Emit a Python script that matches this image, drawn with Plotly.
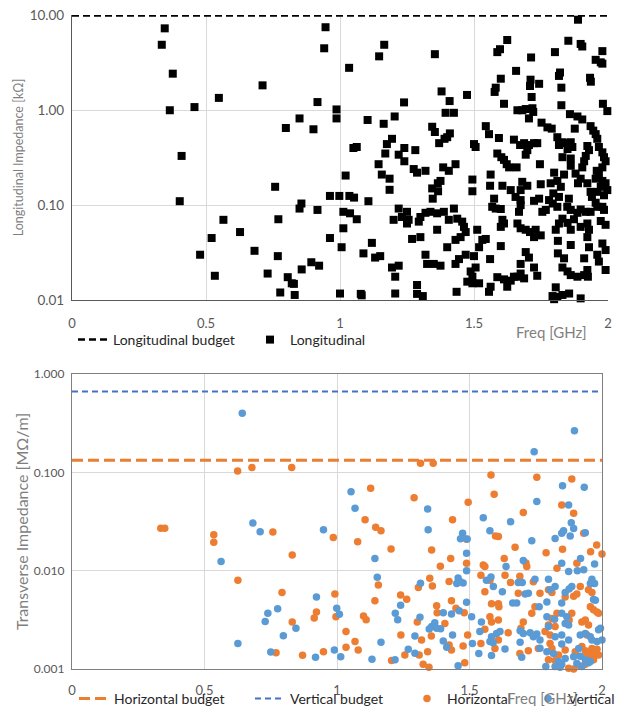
import plotly.graph_objects as go

# ---------------- data (frequency GHz, impedance) ----------------
freq_ticks = [0, 0.5, 1, 1.5, 2]
freq_tick_text = ["0", "0.5", "1", "1.5", "2"]
long_ticks = [0.01, 0.1, 1, 10]
long_tick_text = ["0.01", "0.10", "1.00", "10.00"]
trans_ticks = [0.001, 0.01, 0.1, 1]
trans_tick_text = ["0.001", "0.010", "0.100", "1.000"]

budget_freq = [0, 2]
long_budget = [10.0, 10.0]
horiz_budget = [0.133, 0.133]
vert_budget = [0.665, 0.665]

longitudinal = [
    (0.346, 7.3), (0.335, 4.9), (0.376, 2.43), (0.365, 1.0), (0.457, 1.08), (0.548, 1.35),
    (0.711, 1.83), (0.409, 0.33), (0.402, 0.11), (0.798, 0.65), (0.849, 0.82), (0.901, 0.63),
    (0.916, 1.22), (0.758, 0.156), (0.856, 0.104), (0.849, 0.092), (0.916, 0.089), (0.770, 0.071),
    (0.565, 0.070), (0.627, 0.052), (0.521, 0.045), (0.681, 0.033), (0.478, 0.030), (0.768, 0.029),
    (0.533, 0.018), (0.730, 0.019), (0.893, 0.025), (0.857, 0.021), (0.922, 0.023), (0.805, 0.0174),
    (0.820, 0.015), (0.828, 0.0148), (0.777, 0.012), (0.831, 0.0113), (0.946, 7.5), (0.941, 4.5),
    (1.165, 4.9), (1.146, 3.7), (1.354, 3.9), (1.034, 2.8), (1.379, 1.58), (1.474, 1.45),
    (1.239, 1.21), (1.409, 1.25), (0.987, 1.02), (0.987, 0.82), (1.394, 0.94), (1.425, 0.94),
    (1.103, 0.79), (1.204, 0.86), (1.163, 0.72), (1.344, 0.67), (1.354, 0.59), (1.41, 0.57),
    (1.40, 0.52), (1.37, 0.45), (1.39, 0.50), (1.194, 0.50), (1.175, 0.44), (1.0625, 0.41),
    (1.05, 0.40), (1.24, 0.40), (1.281, 0.38), (1.219, 0.34), (1.169, 0.35), (1.24, 0.29),
    (1.431, 0.27), (1.144, 0.27), (1.275, 0.24), (1.2875, 0.22), (1.319, 0.23), (1.385, 0.25),
    (1.406, 0.23), (1.021, 0.205), (1.156, 0.21), (1.185, 0.19), (1.185, 0.145), (1.375, 0.18),
    (1.365, 0.17), (1.344, 0.15), (1.366, 0.14), (1.346, 0.117), (1.494, 0.186), (1.494, 0.14),
    (0.9625, 0.125), (0.9975, 0.125), (1.035, 0.125), (1.0525, 0.12), (1.106, 0.11), (1.0125, 0.085),
    (1.0375, 0.082), (1.0625, 0.071), (1.0125, 0.057), (0.9625, 0.045), (1.006, 0.036), (1.119, 0.040),
    (1.0875, 0.031), (1.131, 0.028), (1.15, 0.029), (1.194, 0.022), (1.219, 0.023), (1.206, 0.0176),
    (1.0, 0.0117), (1.0775, 0.0116), (1.081, 0.0112), (1.206, 0.0117), (1.2875, 0.0144), (1.2875, 0.0116),
    (1.309, 0.011), (1.435, 0.0122), (1.219, 0.092), (1.25, 0.085), (1.231, 0.075), (1.256, 0.070),
    (1.25, 0.064), (1.2, 0.070), (1.3, 0.075), (1.294, 0.067), (1.319, 0.083), (1.3375, 0.085),
    (1.3625, 0.082), (1.3875, 0.085), (1.425, 0.092), (1.406, 0.070), (1.4375, 0.072), (1.456, 0.067),
    (1.4625, 0.059), (1.469, 0.052), (1.45, 0.046), (1.431, 0.043), (1.3625, 0.055), (1.269, 0.044),
    (1.3, 0.046), (1.4, 0.036), (1.319, 0.030), (1.325, 0.024), (1.35, 0.024), (1.375, 0.023),
    (1.431, 0.024), (1.444, 0.027), (1.469, 0.030), (1.4875, 0.020), (1.475, 0.0156), (1.494, 0.015),
    (1.5, 0.44), (1.506, 0.41),
    (1.888, 9.0), (1.624, 5.5), (1.587, 4.1), (1.597, 4.4), (1.852, 5.4), (1.898, 5.0),
    (1.904, 4.7), (1.979, 4.2), (1.802, 4.1), (1.954, 3.4), (1.973, 3.2), (1.979, 3.1),
    (1.713, 3.6), (1.657, 2.6), (1.821, 2.5), (1.817, 2.3), (1.600, 2.15), (1.933, 2.2),
    (1.936, 2.0), (1.711, 2.1), (1.709, 1.8), (1.743, 1.9), (1.581, 1.73), (1.577, 1.56),
    (1.826, 1.73), (1.715, 1.38), (1.612, 1.17), (1.826, 1.13), (1.981, 1.17), (1.9975, 0.98),
    (1.662, 1.0), (1.68, 1.0), (1.693, 1.03), (1.718, 1.05), (1.721, 0.96), (1.705, 0.82),
    (1.858, 0.91), (1.886, 0.86), (1.904, 0.80), (1.752, 0.74), (1.774, 0.66), (1.79, 0.64),
    (1.544, 0.68), (1.876, 0.64), (1.935, 0.68), (1.945, 0.61), (1.954, 0.56), (1.96, 0.50),
    (1.556, 0.56), (1.593, 0.51), (1.649, 0.49), (1.672, 0.43), (1.687, 0.45), (1.705, 0.43),
    (1.724, 0.45), (1.736, 0.45), (1.811, 0.52), (1.83, 0.46), (1.817, 0.43), (1.842, 0.45),
    (1.861, 0.46), (1.867, 0.41), (1.849, 0.39), (1.587, 0.35), (1.602, 0.32), (1.612, 0.30),
    (1.622, 0.27), (1.631, 0.25), (1.659, 0.25), (1.693, 0.34), (1.699, 0.38), (1.83, 0.32),
    (1.861, 0.31), (1.861, 0.26), (1.746, 0.27), (1.923, 0.42), (1.929, 0.38), (1.917, 0.33),
    (1.911, 0.29), (1.904, 0.25), (1.966, 0.41), (1.979, 0.36), (1.985, 0.32), (1.991, 0.29),
    (1.979, 0.25), (1.958, 0.23), (1.966, 0.21), (1.954, 0.19), (1.979, 0.18), (1.991, 0.17),
    (1.9975, 0.144), (1.973, 0.156), (1.96, 0.138), (1.985, 0.127), (1.879, 0.215), (1.898, 0.19),
    (1.888, 0.17), (1.923, 0.17), (1.935, 0.138), (1.799, 0.22), (1.811, 0.18), (1.836, 0.21),
    (1.824, 0.156), (1.786, 0.17), (1.562, 0.21), (1.56, 0.16), (1.606, 0.16), (1.637, 0.144),
    (1.655, 0.122), (1.674, 0.113), (1.68, 0.176), (1.699, 0.16), (1.674, 0.144), (1.749, 0.166),
    (1.796, 0.133), (1.817, 0.122), (1.794, 0.104), (1.811, 0.096), (1.854, 0.117), (1.848, 0.096),
    (1.575, 0.117), (1.568, 0.096), (1.581, 0.092), (1.6, 0.091), (1.674, 0.1), (1.724, 0.111),
    (1.743, 0.117), (1.755, 0.085), (1.768, 0.089), (1.668, 0.085), (1.94, 0.122), (1.954, 0.106),
    (1.96, 0.096), (1.979, 0.096), (1.985, 0.089), (1.935, 0.085), (1.917, 0.085), (1.898, 0.09),
    (1.886, 0.083), (1.861, 0.089), (1.873, 0.071), (1.849, 0.065), (1.973, 0.068), (1.991, 0.062),
    (1.923, 0.064), (1.929, 0.055), (1.923, 0.046), (1.898, 0.059), (1.861, 0.055), (1.817, 0.064),
    (1.805, 0.055), (1.83, 0.072), (1.606, 0.07), (1.612, 0.064), (1.6, 0.059), (1.662, 0.064),
    (1.674, 0.057), (1.693, 0.055), (1.709, 0.052), (1.73, 0.055), (1.724, 0.046), (1.749, 0.048),
    (1.512, 0.055), (1.531, 0.043), (1.544, 0.044), (1.519, 0.036), (1.5, 0.029), (1.506, 0.022),
    (1.494, 0.0176), (1.519, 0.015), (1.6, 0.037), (1.56, 0.027), (1.649, 0.0176), (1.693, 0.032),
    (1.705, 0.028), (1.674, 0.024), (1.724, 0.022), (1.736, 0.018), (1.674, 0.019), (1.662, 0.0176),
    (1.687, 0.0169), (1.637, 0.016), (1.612, 0.0165), (1.587, 0.0174), (1.562, 0.0138), (1.556, 0.0122),
    (1.624, 0.0138), (1.813, 0.042), (1.813, 0.031), (1.836, 0.0275), (1.83, 0.022), (1.849, 0.020),
    (1.861, 0.0183), (1.886, 0.0176), (1.911, 0.0183), (1.923, 0.0207), (1.925, 0.0176), (1.911, 0.0275),
    (1.966, 0.0254), (1.991, 0.0207), (1.979, 0.0394), (1.991, 0.0336), (1.929, 0.036), (1.861, 0.038),
    (1.96, 0.030), (1.805, 0.0136), (1.793, 0.011), (1.811, 0.0108), (1.83, 0.0113), (1.799, 0.0102),
    (1.898, 0.0104), (1.855, 0.0117), (1.78, 0.113),
]

horizontal = [
    (0.335, 0.027), (0.35, 0.027), (0.535, 0.0232), (0.535, 0.0194), (0.625, 0.103), (0.679, 0.112),
    (0.829, 0.112), (0.758, 0.0247), (0.831, 0.0144), (0.626, 0.008), (0.7925, 0.006), (0.831, 0.003),
    (0.914, 0.0033), (0.9225, 0.0038), (0.77, 0.00146), (0.87, 0.00138), (0.949, 0.0015),
    (1.315, 0.124), (1.363, 0.124), (1.127, 0.069), (1.291, 0.055), (1.495, 0.0495), (1.106, 0.033),
    (1.436, 0.033), (0.986, 0.0217), (1.146, 0.0276), (1.166, 0.0255), (1.078, 0.0197), (1.204, 0.0166),
    (1.357, 0.0162), (1.489, 0.0209), (1.429, 0.0133), (1.39, 0.0111), (1.489, 0.0119), (1.156, 0.00714),
    (1.35, 0.00836), (1.36, 0.00698), (1.307, 0.00676), (1.423, 0.00776), (0.992, 0.0058), (1.24, 0.00567),
    (1.263, 0.00512), (1.143, 0.00495), (1.432, 0.00495), (0.996, 0.0034), (1.1, 0.00346), (1.11, 0.00316),
    (1.376, 0.0044), (1.378, 0.00374), (1.449, 0.00414), (1.48, 0.00374), (1.303, 0.003), (1.407, 0.0029),
    (1.034, 0.0024), (1.241, 0.00222), (1.068, 0.0019), (1.319, 0.00197), (1.356, 0.00217), (1.493, 0.00222),
    (1.034, 0.00166), (1.08, 0.00156), (1.423, 0.00175), (1.432, 0.00156), (1.476, 0.00171), (1.256, 0.00139),
    (1.342, 0.0015), (1.31, 0.00139), (1.206, 0.00122), (1.325, 0.00112), (1.347, 0.00104), (1.482, 0.00116),
    (1.581, 0.094), (1.754, 0.089), (1.886, 0.0856), (1.593, 0.060), (1.703, 0.039), (1.848, 0.0466),
    (1.893, 0.0383), (1.598, 0.0225), (1.609, 0.0222), (1.931, 0.024), (1.672, 0.0173), (1.789, 0.0152),
    (1.851, 0.0165), (1.957, 0.0156), (1.98, 0.0182), (2.0, 0.0148), (1.631, 0.0133), (1.552, 0.0114),
    (1.558, 0.011), (1.543, 0.009), (1.713, 0.012), (1.716, 0.011), (1.83, 0.0106), (1.905, 0.0119),
    (1.634, 0.009), (1.655, 0.0076), (1.577, 0.008), (1.558, 0.0061), (1.583, 0.0046), (1.609, 0.0046),
    (1.611, 0.0043), (1.577, 0.0034), (1.583, 0.003), (1.609, 0.00315), (1.69, 0.0088), (1.684, 0.0059),
    (1.741, 0.0077), (1.766, 0.0059), (1.747, 0.0043), (1.735, 0.0037), (1.798, 0.0064), (1.811, 0.006),
    (1.861, 0.0054), (1.893, 0.0055), (1.905, 0.0058), (1.918, 0.0069), (1.949, 0.0064), (1.962, 0.006),
    (1.956, 0.0043), (1.968, 0.004), (1.981, 0.0038), (1.987, 0.0037), (1.886, 0.0037), (1.876, 0.00315),
    (1.924, 0.003), (1.937, 0.00315), (1.949, 0.0028), (1.943, 0.00222), (1.83, 0.0037), (1.811, 0.00327),
    (1.798, 0.0028), (1.823, 0.0027), (1.785, 0.0024), (1.804, 0.00222), (1.703, 0.003), (1.694, 0.0026),
    (1.646, 0.00234), (1.609, 0.00197), (1.596, 0.00162), (1.558, 0.00253), (1.543, 0.00182),
    (1.69, 0.00144), (1.722, 0.00153), (1.76, 0.00162), (1.804, 0.00182), (1.811, 0.00162), (1.836, 0.00139),
    (1.861, 0.00156), (1.899, 0.0015), (1.924, 0.00169), (1.937, 0.00153), (1.962, 0.00162), (1.981, 0.00159),
    (1.968, 0.00144), (1.987, 0.00139), (1.798, 0.00124), (1.823, 0.00122), (1.836, 0.0011), (1.874, 0.00102),
    (1.893, 0.001), (1.918, 0.00107), (1.937, 0.00112), (1.956, 0.00133), (1.968, 0.00124), (1.943, 0.00144),
]

vertical = [
    (0.6425, 0.398), (0.6825, 0.0305), (0.71, 0.0249), (0.5625, 0.0124), (0.626, 0.00182), (0.739, 0.0037),
    (0.776, 0.0041), (0.729, 0.00305), (0.7975, 0.00218), (0.845, 0.0026), (0.75, 0.00149), (0.9225, 0.0054),
    (0.919, 0.00132), (0.949, 0.026),
    (1.053, 0.0636), (1.068, 0.0431), (1.342, 0.0424), (1.344, 0.026), (1.474, 0.024), (1.466, 0.0211),
    (1.491, 0.021), (1.489, 0.015), (1.489, 0.01), (1.143, 0.0133), (1.152, 0.00855), (1.315, 0.00743),
    (1.457, 0.0084), (1.466, 0.0077), (1.476, 0.0075), (1.452, 0.0074), (0.999, 0.00414), (1.009, 0.0036),
    (1.24, 0.00446), (1.22, 0.00368), (1.229, 0.00316), (1.313, 0.00335), (1.401, 0.00374), (1.432, 0.00363),
    (1.461, 0.00392), (1.489, 0.00476), (1.508, 0.0034), (1.348, 0.00255), (1.369, 0.00296), (1.376, 0.0026),
    (1.391, 0.00257), (1.357, 0.0027), (1.294, 0.00217), (1.401, 0.00193), (1.414, 0.00166), (1.436, 0.00222),
    (1.511, 0.00182), (1.166, 0.00187), (1.269, 0.00159), (1.294, 0.00145), (0.99, 0.00156), (1.014, 0.00133),
    (1.132, 0.00126), (1.219, 0.00124), (1.457, 0.00108), (1.896, 0.265),
    (1.744, 0.162), (1.851, 0.073), (1.933, 0.0704), (1.754, 0.0504), (1.874, 0.0466), (1.552, 0.0346),
    (1.655, 0.0315), (1.577, 0.0255), (1.884, 0.0308), (1.855, 0.0255), (1.893, 0.0269), (1.88, 0.0225),
    (1.937, 0.0243), (1.848, 0.024), (1.735, 0.0202), (1.823, 0.0213), (1.919, 0.0133), (1.907, 0.01),
    (1.874, 0.0098), (1.931, 0.0102), (1.972, 0.0117), (1.848, 0.0119), (1.703, 0.0127), (1.638, 0.011),
    (1.564, 0.008), (1.962, 0.0082), (1.956, 0.0074), (1.972, 0.0074), (1.886, 0.0069), (1.876, 0.0065),
    (1.861, 0.006), (1.798, 0.0082), (1.823, 0.0069), (1.804, 0.0064), (1.747, 0.0082), (1.71, 0.0058),
    (1.722, 0.0059), (1.684, 0.0076), (1.699, 0.0076), (1.59, 0.0069), (1.581, 0.0086), (1.624, 0.0061),
    (1.678, 0.0047), (1.663, 0.0047), (1.763, 0.0043), (1.792, 0.0048), (1.848, 0.0047), (1.848, 0.0037),
    (1.867, 0.0034), (1.861, 0.0029), (1.874, 0.0028), (1.968, 0.0051), (1.975, 0.005), (1.545, 0.003),
    (1.539, 0.0024), (1.583, 0.00213), (1.602, 0.0023), (1.577, 0.0019), (1.589, 0.00185), (1.615, 0.0024),
    (1.691, 0.00245), (1.703, 0.0023), (1.729, 0.00234), (1.741, 0.00213), (1.754, 0.00227), (1.766, 0.00197),
    (1.792, 0.0034), (1.798, 0.0027), (1.821, 0.0032), (1.823, 0.00213), (1.848, 0.00222), (1.874, 0.00197),
    (1.792, 0.0015), (1.817, 0.00144), (1.848, 0.0018), (1.535, 0.00144), (1.583, 0.00137), (1.634, 0.0016),
    (1.691, 0.00187), (1.697, 0.00132), (1.766, 0.00163), (1.918, 0.00222), (1.937, 0.0023), (1.956, 0.00213),
    (1.962, 0.00197), (1.981, 0.0019), (1.987, 0.0025), (1.994, 0.0026), (2.0, 0.00197), (1.912, 0.00162),
    (1.918, 0.00135), (1.937, 0.00124), (1.956, 0.00119), (1.893, 0.00133), (1.861, 0.00128), (1.836, 0.00119),
    (1.848, 0.00112), (1.788, 0.00106), (1.823, 0.00106), (1.842, 0.00104), (1.905, 0.00114), (1.924, 0.00106),
    (1.949, 0.00116),
]

# ---------------- styling ----------------
FONT = "Lato"
GRID = "#d9d9d9"
AXIS = "#7f7f7f"
TICK = "#595959"
ORANGE = "#ED7D31"
BLUE = "#5B9BD5"

W, H = 621, 706
ML, MR, MT, MB = 72, 13, 15, 37
PW, PH = W - ML - MR, H - MT - MB


def px_x(p):
    return (p - ML) / PW


def px_y(p):
    return (H - MB - p) / PH


fig = go.Figure()

# top subplot
fig.add_trace(go.Scatter(
    x=budget_freq, y=long_budget, mode="lines", name="Longitudinal budget",
    line=dict(color="black", width=2.5, dash="7px,4px"),
    xaxis="x", yaxis="y", legend="legend", cliponaxis=False))
fig.add_trace(go.Scatter(
    x=[p[0] for p in longitudinal], y=[p[1] for p in longitudinal], mode="markers",
    name="Longitudinal", marker=dict(symbol="square", size=8, color="black"),
    xaxis="x", yaxis="y", legend="legend2", cliponaxis=False))

# bottom subplot
fig.add_trace(go.Scatter(
    x=budget_freq, y=horiz_budget, mode="lines", name="Horizontal budget",
    line=dict(color=ORANGE, width=3, dash="11px,5px"),
    xaxis="x2", yaxis="y2", legend="legend3"))
fig.add_trace(go.Scatter(
    x=budget_freq, y=vert_budget, mode="lines", name="Vertical budget",
    line=dict(color="#4472C4", width=2, dash="6px,4px"),
    xaxis="x2", yaxis="y2", legend="legend4"))
fig.add_trace(go.Scatter(
    x=[p[0] for p in horizontal], y=[p[1] for p in horizontal], mode="markers",
    name="Horizontal", marker=dict(size=7.5, color=ORANGE),
    xaxis="x2", yaxis="y2", legend="legend5", cliponaxis=False))
fig.add_trace(go.Scatter(
    x=[p[0] for p in vertical], y=[p[1] for p in vertical], mode="markers",
    name="Vertical", marker=dict(size=7.5, color=BLUE),
    xaxis="x2", yaxis="y2", legend="legend6", cliponaxis=False))

top_dom = [px_y(300), 1.0]
bot_dom = [0.0, px_y(374)]

common_x = dict(range=[0, 2], tickmode="array", tickvals=freq_ticks, ticktext=freq_tick_text,
                showgrid=True, gridcolor=GRID, gridwidth=1, zeroline=False,
                ticks="outside", tickcolor="rgba(0,0,0,0)",
                tickfont=dict(family=FONT, size=13, color=TICK))

fig.update_layout(
    width=W, height=H,
    margin=dict(l=ML, r=MR, t=MT, b=MB, autoexpand=False),
    paper_bgcolor="white", plot_bgcolor="white",
    font=dict(family=FONT, color="#404040"),
    xaxis=dict(domain=[0, 1], anchor="y", showline=True, linecolor="#595959", linewidth=1.2,
               ticklen=11, **common_x),
    yaxis=dict(domain=top_dom, anchor="x", type="log", range=[-2, 1.004],
               tickmode="array", tickvals=long_ticks, ticktext=long_tick_text,
               showgrid=True, gridcolor=GRID, zeroline=False,
               showline=True, linecolor="#595959", linewidth=1.2,
               ticks="outside", ticklen=4, tickcolor="rgba(0,0,0,0)",
               tickfont=dict(family=FONT, size=13.5, color=TICK),
               title=dict(text="Longitudinal Impedance [kΩ]", standoff=3,
                          font=dict(family=FONT, size=12.5, color="#7f7f7f"))),
    xaxis2=dict(domain=[0, px_x(602)], anchor="y2", showline=True, mirror=True,
                linecolor=AXIS, linewidth=1.2, ticklen=9, **common_x),
    yaxis2=dict(domain=bot_dom, anchor="x2", type="log", range=[-3, 0],
                tickmode="array", tickvals=trans_ticks, ticktext=trans_tick_text,
                showgrid=True, gridcolor=GRID, zeroline=False,
                showline=True, mirror=True, linecolor=AXIS, linewidth=1.2,
                ticks="outside", ticklen=4, tickcolor="rgba(0,0,0,0)",
                tickfont=dict(family=FONT, size=12, color=TICK),
                title=dict(text="Transverse Impedance [MΩ/m]", standoff=1,
                           font=dict(family=FONT, size=16, color="#7f7f7f"))),
    showlegend=True,
)

leg_common = dict(orientation="h", xanchor="left", yanchor="middle", bgcolor="rgba(0,0,0,0)",
                  font=dict(family=FONT, size=14, color="#262626"), borderwidth=0)
fig.update_layout(
    legend=dict(x=px_x(73), y=px_y(340), **leg_common),
    legend2=dict(x=px_x(250), y=px_y(340), **leg_common),
    legend3=dict(x=px_x(74), y=px_y(699), **leg_common),
    legend4=dict(x=px_x(250), y=px_y(699), **leg_common),
    legend5=dict(x=px_x(407), y=px_y(699), **leg_common),
    legend6=dict(x=px_x(528), y=px_y(699), **leg_common),
)

fig.add_annotation(text="Freq [GHz]", xref="paper", yref="paper", x=px_x(551), y=px_y(332),
                   xanchor="center", yanchor="middle", showarrow=False,
                   font=dict(family=FONT, size=15, color="#7f7f7f"))
fig.add_annotation(text="Freq [GHz]", xref="paper", yref="paper", x=px_x(542), y=px_y(698),
                   xanchor="center", yanchor="middle", showarrow=False,
                   font=dict(family=FONT, size=15, color="#7f7f7f"))

fig.write_html("out.html", config={"displayModeBar": False},
               post_script="document.body.style.margin='0px';")
